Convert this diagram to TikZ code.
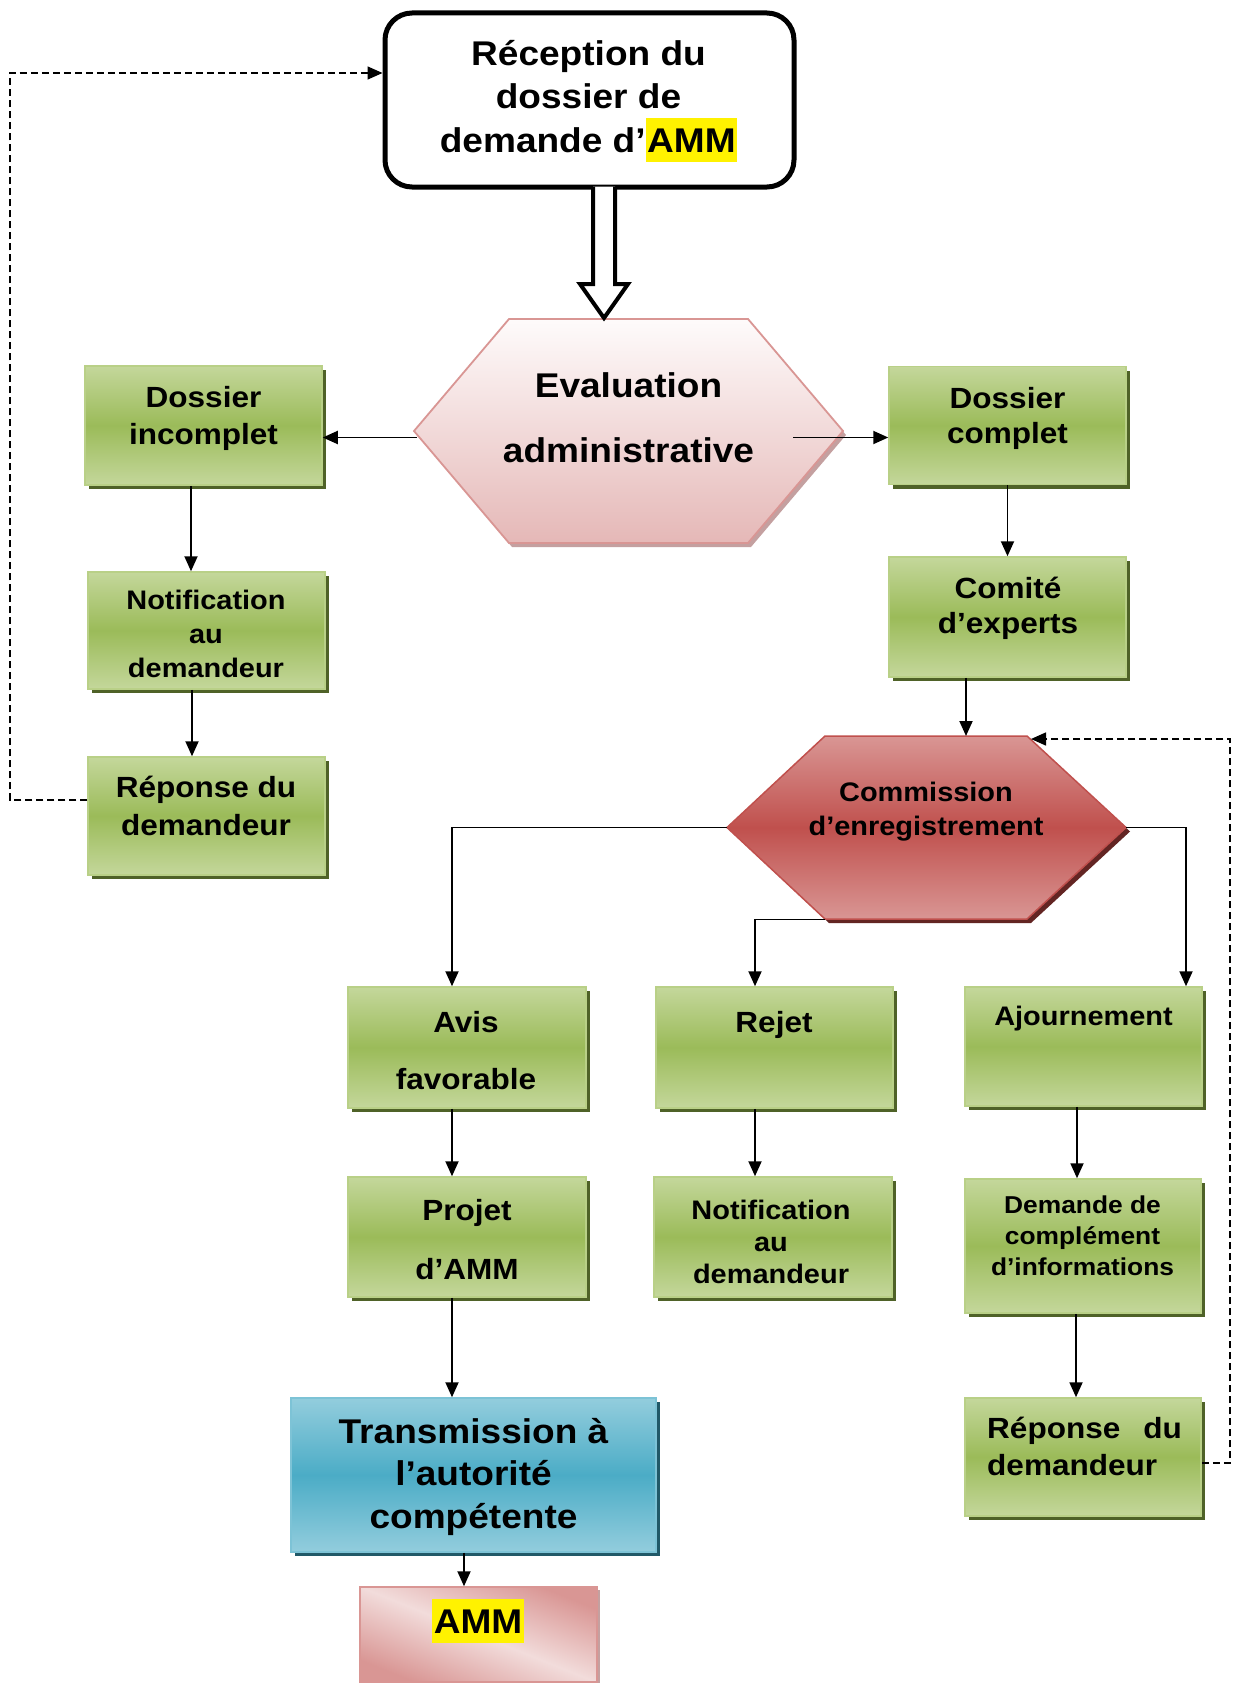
\documentclass[tikz,border=0pt]{standalone}
\usepackage{fontspec}
\setmainfont{Liberation Sans}[FakeStretch=1.08]
\usetikzlibrary{arrows.meta,calc,shadows}
\definecolor{gl}{RGB}{196,215,155}
\definecolor{gm}{RGB}{155,187,89}
\definecolor{gbd}{RGB}{185,208,135}
\definecolor{gsh}{RGB}{79,98,40}
\definecolor{pkt}{RGB}{254,251,251}
\definecolor{pkb}{RGB}{229,184,183}
\definecolor{pkd}{RGB}{217,150,148}
\definecolor{pksh}{RGB}{196,160,160}
\definecolor{rdm}{RGB}{192,80,77}
\definecolor{rdsh}{RGB}{99,37,35}
\definecolor{bll}{RGB}{147,205,221}
\definecolor{blm}{RGB}{75,172,198}
\definecolor{blbd}{RGB}{125,195,214}
\definecolor{blsh}{RGB}{33,89,104}
\definecolor{pkl}{RGB}{242,220,219}
\newcommand\fsz[2]{\fontsize{#1pt}{#2pt}\selectfont}
\newcommand\hlt[1]{{\setlength{\fboxsep}{0pt}\colorbox{yellow}{\rule[-0.28em]{0pt}{1.26em}\kern1.5pt #1\kern1.5pt}}}
\begin{document}
\begin{tikzpicture}[x=1pt,y=-1pt,
  gbox/.style={draw=gbd, line width=1.5pt, top color=gl, bottom color=gl, middle color=gm, inner sep=0pt,
    drop shadow={shadow xshift=4pt, shadow yshift=-4pt, fill=gsh, opacity=1}},
  txt/.style={inner sep=0pt, align=center, anchor=base},
  arr/.style={line width=1.9pt, -{Triangle[length=15pt,width=13pt]}},
  dsh/.style={line width=1.5pt, dash pattern=on 7pt off 4pt, -{Triangle[length=15pt,width=13pt]}},
  dbl/.style={draw=black, fill=white, line width=4pt, line join=miter}
]
\fill[white] (0,0) rectangle (1235,1683);
\useasboundingbox (0,0) rectangle (1235,1683);

% hexagons
\path[draw=pkd, line width=1.8pt, top color=pkt, bottom color=pkb,
  drop shadow={shadow xshift=3pt, shadow yshift=-4pt, fill=pksh, opacity=1}]
  (414,431) -- (509,319) -- (748,319) -- (843,431) -- (748,543) -- (509,543) -- cycle;
\path[draw=rdm, line width=1.5pt, top color=pkd, bottom color=pkd, middle color=rdm,
  drop shadow={shadow xshift=4pt, shadow yshift=-4pt, fill=rdsh, opacity=1}]
  (727,827.5) -- (825,736) -- (1027,736) -- (1126,827.5) -- (1027,919) -- (825,919) -- cycle;
\coordinate (eL) at (417,437.5);
\coordinate (eR) at (793,437.5);
\coordinate (eT) at (604,319);
\coordinate (cT) at (966,736);
\coordinate (cL) at (727,827.5);
\coordinate (cR) at (1126,827.5);
\coordinate (cBL) at (825,919.5);
\coordinate (cTR) at (1031,739);

% reception box
\node[draw=black, fill=white, line width=5pt, rounded corners=27pt, minimum width=409pt, minimum height=174pt, inner sep=0pt] (rec) at (589.5,100) {};
\coordinate (dA) at (rec.south -| eT);
\draw[dbl] ($(dA)+(-11,-3)$) -- ($(eT)+(-11,-35)$) -- ($(eT)+(-24,-35)$) -- ($(eT)+(0,-1)$) -- ($(eT)+(24,-35)$) -- ($(eT)+(11,-35)$) -- ($(dA)+(11,-3)$);

% green boxes
\node[gbox, minimum width=237pt, minimum height=119pt] (di) at (203.5,425.5) {};
\node[gbox, minimum width=237pt, minimum height=118pt] (dc) at (1007.5,425.5) {};
\node[gbox, minimum width=237pt, minimum height=117pt] (nl) at (206.5,630.5) {};
\node[gbox, minimum width=237pt, minimum height=118pt] (rl) at (206.5,816) {};
\node[gbox, minimum width=237pt, minimum height=120pt] (ce) at (1007.5,617) {};
\node[gbox, minimum width=238pt, minimum height=121pt] (av) at (467,1047.5) {};
\node[gbox, minimum width=237pt, minimum height=121pt] (rj) at (774.5,1047.5) {};
\node[gbox, minimum width=237pt, minimum height=119pt] (aj) at (1083.5,1046.5) {};
\node[gbox, minimum width=238pt, minimum height=120pt] (pj) at (467,1237) {};
\node[gbox, minimum width=238pt, minimum height=120pt] (nm) at (773,1237) {};
\node[gbox, minimum width=236pt, minimum height=134pt] (dm) at (1083,1246) {};
\node[gbox, minimum width=236pt, minimum height=118pt] (rr) at (1083,1457) {};

% transmission and AMM
\node[draw=blbd, line width=1.5pt, top color=bll, bottom color=bll, middle color=blm, inner sep=0pt,
  minimum width=365pt, minimum height=154pt,
  drop shadow={shadow xshift=4pt, shadow yshift=-4pt, fill=blsh, opacity=1}] (tr) at (473.5,1475) {};
\node[draw=pkd, line width=1.5pt, top color=pkd, bottom color=pkd, middle color=pkl, shading angle=-22, inner sep=0pt,
  minimum width=237pt, minimum height=95pt,
  drop shadow={shadow xshift=3pt, shadow yshift=-3pt, fill=pksh, opacity=1}] (amm) at (478.5,1634.5) {};

% texts (anchor = baseline of the last line)
\node[txt, font=\bfseries\fsz{34.3}{43}] (rec-t) at (588.5,152) {Réception du\\dossier de\\demande d’\hlt{AMM}};
\node[txt, font=\bfseries\fsz{34.3}{65}] (eval) at (628.5,462) {Evaluation\\administrative};
\node[txt, font=\bfseries\fsz{29.2}{37}] (di-t) at (203.5,444) {Dossier\\incomplet};
\node[txt, font=\bfseries\fsz{29.2}{35}] (dc-t) at (1007.5,443) {Dossier\\complet};
\node[txt, font=\bfseries\fsz{26.8}{34}] (nl-t) at (206,677) {Notification\\au\\demandeur};
\node[txt, font=\bfseries\fsz{29.2}{38}] (rl-t) at (206,835) {Réponse du\\demandeur};
\node[txt, font=\bfseries\fsz{29.2}{35}] (ce-t) at (1008,633) {Comité\\d’experts};
\node[txt, font=\bfseries\fsz{26.8}{34}] (cm) at (926,835.5) {Commission\\d’enregistrement};
\node[txt, font=\bfseries\fsz{29.2}{57}] (av-t) at (466,1089) {Avis\\favorable};
\node[txt, font=\bfseries\fsz{29.2}{35}] (rj-t) at (774,1032) {Rejet};
\node[txt, font=\bfseries\fsz{26.8}{34}] (aj-t) at (1083.5,1025) {Ajournement};
\node[txt, font=\bfseries\fsz{29.2}{59}] (pj-t) at (467,1279) {Projet\\d’AMM};
\node[txt, font=\bfseries\fsz{26.8}{32}] (nm-t) at (771,1283) {Notification\\au\\demandeur};
\node[txt, font=\bfseries\fsz{24.4}{31}] (dm-t) at (1082.5,1275) {Demande de\\complément\\d’informations};
\node[txt, font=\bfseries\fsz{29.2}{37}, align=left, anchor=base west] (rr-t) at (987,1475) {Réponse\hspace{23pt}du\\demandeur};
\node[txt, font=\bfseries\fsz{34.3}{42.5}] (tr-t) at (473.5,1528) {Transmission à\\l’autorité\\compétente};
\node[txt, font=\bfseries\fsz{34.3}{43}] (amm-t) at (478,1633) {\hlt{AMM}};

% connectors
\draw[arr] (eL) -- (eL -| di.east);
\draw[arr] (eR) -- (eR -| dc.west);
\draw[arr] (191,0 |- di.south) -- (191,0 |- nl.north);
\draw[arr] (192,0 |- nl.south) -- (192,0 |- rl.north);
\draw[dsh] (rl.west |- 0,800) -| (10,73) -- (10,73 -| rec.west);
\draw[arr] (dc.south) -- (ce.north);
\draw[arr] (966,0 |- ce.south) -- (cT);
\draw[arr] (cL) -| (452,0 |- av.north);
\draw[arr] (cBL) -| (755,0 |- rj.north);
\draw[arr] (cR) -| (1186,0 |- aj.north);
\draw[dsh] (rr.east |- 0,1463) -| (cTR -| 1230,0) -- (cTR);
\draw[arr] (452,0 |- av.south) -- (452,0 |- pj.north);
\draw[arr] (755,0 |- rj.south) -- (755,0 |- nm.north);
\draw[arr] (1077,0 |- aj.south) -- (1077,0 |- dm.north);
\draw[arr] (1076,0 |- dm.south) -- (1076,0 |- rr.north);
\draw[arr] (452,0 |- pj.south) -- (452,0 |- tr.north);
\draw[arr] (464,0 |- tr.south) -- (464,0 |- amm.north);
\end{tikzpicture}
\end{document}
